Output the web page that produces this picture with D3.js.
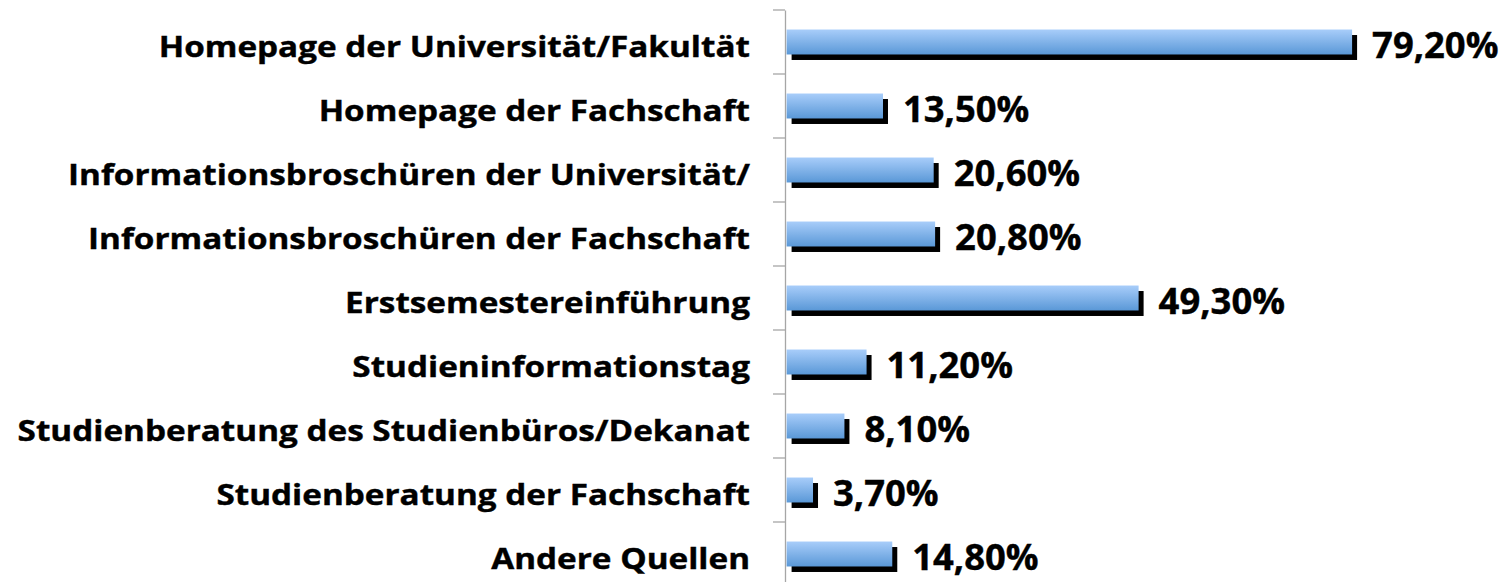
<!DOCTYPE html>
<html>
<head>
<meta charset="utf-8">
<script src="https://cdn.jsdelivr.net/npm/d3@7"></script>
<style>
  body { margin: 0; background: #fff; }
  text { font-family: "Open Sans", sans-serif; font-weight: bold; fill: #000; }
</style>
</head>
<body>
<div id="wrapper"></div>
<script>
const categories = [
  "Homepage der Universität/Fakultät",
  "Homepage der Fachschaft",
  "Informationsbroschüren der Universität/",
  "Informationsbroschüren der Fachschaft",
  "Erstsemestereinführung",
  "Studieninformationstag",
  "Studienberatung des Studienbüros/Dekanat",
  "Studienberatung der Fachschaft",
  "Andere Quellen"
]
const values = [79.2, 13.5, 20.6, 20.8, 49.3, 11.2, 8.1, 3.7, 14.8]
const valueLabels = ["79,20%", "13,50%", "20,60%", "20,80%", "49,30%", "11,20%", "8,10%", "3,70%", "14,80%"]

function drawChart() {
  const dimensions = { width: 1509, height: 582 }
  const axisX = 785

  const wrapper = d3.select("#wrapper")
    .append("svg")
      .attr("width", dimensions.width)
      .attr("height", dimensions.height)

  const defs = wrapper.append("defs")
  const grad = defs.append("linearGradient")
      .attr("id", "barGrad")
      .attr("x1", 0).attr("y1", 0).attr("x2", 0).attr("y2", 1)
  grad.append("stop").attr("offset", "0%").attr("stop-color", "#a8cdfa")
  grad.append("stop").attr("offset", "100%").attr("stop-color", "#5a98d7")

  // scales
  const yScale = d3.scaleBand()
    .domain(categories)
    .range([10, 10 + 64 * categories.length])
    .padding(0)

  const xScale = d3.scaleLinear()
    .domain([0, 80])
    .range([786.6, 786.6 + 80 * 7.14])

  const barH = yScale.bandwidth() * 0.39
  const center = d => yScale(d) + yScale.bandwidth() / 2

  // axis
  const yAxis = d3.axisLeft(yScale)
    .tickSize(0)
    .tickFormat("")
  const axisG = wrapper.append("g")
      .attr("transform", `translate(${axisX},0)`)
      .call(yAxis)
  axisG.select(".domain").attr("stroke", "#a6a6a6").attr("stroke-width", 1.3)
  // tick marks at band boundaries
  axisG.selectAll("line.bound")
    .data(d3.range(categories.length + 1))
    .join("line")
      .attr("class", "bound")
      .attr("x1", -12).attr("x2", 0)
      .attr("y1", i => 10 + i * yScale.step())
      .attr("y2", i => 10 + i * yScale.step())
      .attr("stroke", "#a6a6a6")
      .attr("stroke-width", 1.3)

  const rows = categories.map((c, i) => ({ cat: c, val: values[i], label: valueLabels[i] }))

  // shadows
  wrapper.append("g").selectAll("rect")
    .data(rows)
    .join("rect")
      .attr("x", xScale(0) + 5)
      .attr("y", d => center(d.cat) - barH / 2 + 5.5)
      .attr("width", d => xScale(d.val) - xScale(0))
      .attr("height", barH)
      .attr("fill", "#000")

  // bars
  wrapper.append("g").selectAll("rect")
    .data(rows)
    .join("rect")
      .attr("x", xScale(0))
      .attr("y", d => center(d.cat) - barH / 2)
      .attr("width", d => xScale(d.val) - xScale(0))
      .attr("height", barH)
      .attr("fill", "url(#barGrad)")

  // category labels (stretched a bit, like the wide font of the original)
  wrapper.append("g").selectAll("text")
    .data(rows)
    .join("text")
      .attr("transform", d => `translate(750,${center(d.cat) + 14.5}) scale(1.168,1)`)
      .attr("text-anchor", "end")
      .style("font-size", "28.5px")
      .style("stroke", "#000")
      .style("stroke-width", 0.4)
      .text(d => d.cat)

  // value labels
  wrapper.append("g").selectAll("text")
    .data(rows)
    .join("text")
      .attr("transform", d => `translate(${xScale(d.val) + 20},${center(d.cat) + 15.5}) scale(1.04,1)`)
      .style("font-size", "35px")
      .style("stroke", "#000")
      .style("stroke-width", 0.4)
      .text(d => d.label)
}

drawChart()
</script>
</body>
</html>
